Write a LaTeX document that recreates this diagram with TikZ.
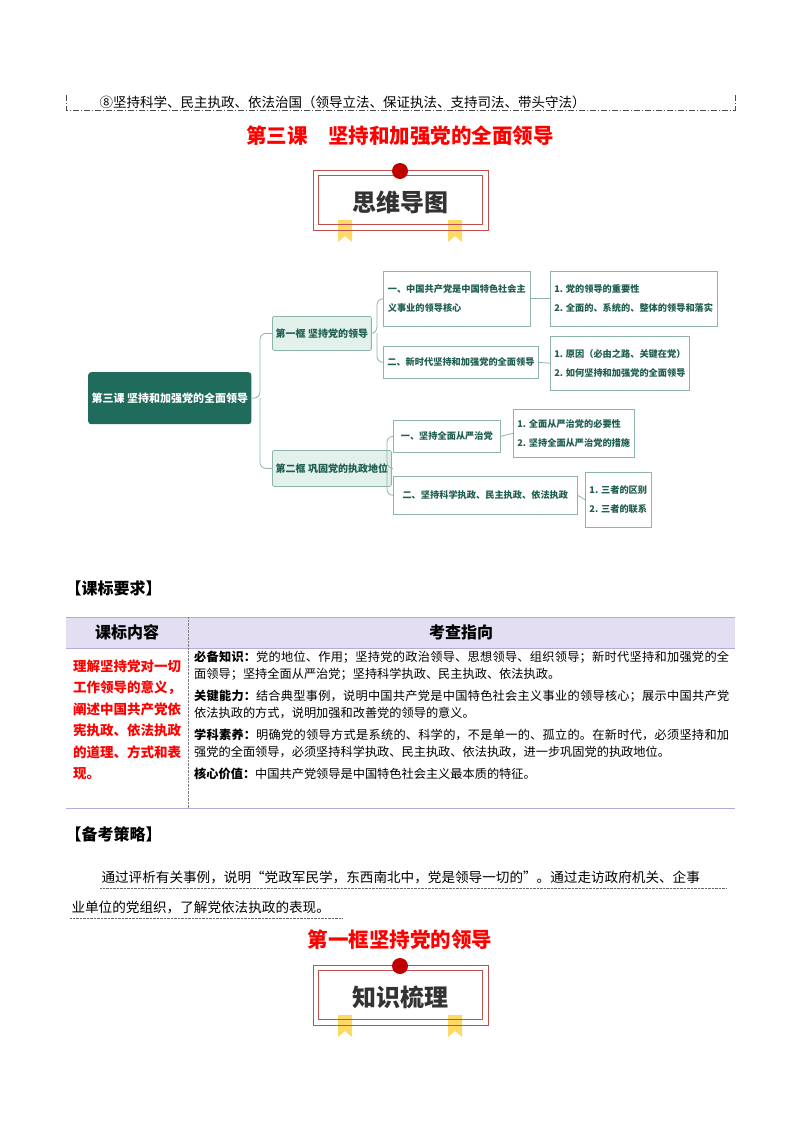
\documentclass[tikz,border=0pt]{standalone}
\usepackage{fontspec}
\setmainfont{Noto Sans CJK SC}
\XeTeXlinebreaklocale "zh"
\XeTeXlinebreakskip = 0pt plus 3pt
\usetikzlibrary{positioning}
\definecolor{dgreen}{HTML}{1F6B5C}
\definecolor{lgreen}{HTML}{E2F1EC}
\definecolor{mtext}{HTML}{1F5E50}
\definecolor{mborder}{HTML}{8FB5AA}
\definecolor{lav}{HTML}{E3DEF2}
\definecolor{lavb}{HTML}{B6A9DE}
\definecolor{bred}{HTML}{C0504D}
\definecolor{dotred}{HTML}{C00000}
\definecolor{gold}{HTML}{FFD966}
\tikzset{
 leaf/.style={draw=mborder,line width=0.6pt,fill=white,align=left,anchor=north west,inner sep=4pt,text=mtext,font=\fontsize{9.2}{19}\selectfont\bfseries},
 frame/.style={draw=mborder,line width=0.8pt,fill=lgreen,rounded corners=2pt,text=mtext,font=\fontsize{10}{12}\selectfont\bfseries,anchor=north west},
 conn/.style={draw=mborder,line width=0.8pt,rounded corners=6pt},
 hd/.style={font=\fontsize{16}{18}\selectfont\bfseries,anchor=west},
 redtitle/.style={text=red,font=\fontsize{20.5}{23}\selectfont\bfseries},
}
\newcommand{\badge}[3]{%
 \fill[gold] (#1-62,#2+20) -- (#1-48,#2+20) -- (#1-48,#2+42) -- (#1-55,#2+36) -- (#1-62,#2+42) -- cycle;
 \fill[gold] (#1+48,#2+20) -- (#1+62,#2+20) -- (#1+62,#2+42) -- (#1+55,#2+36) -- (#1+48,#2+42) -- cycle;
 \draw[bred,line width=0.8pt] (#1-87,#2-30) rectangle (#1+88,#2+30);
 \draw[bred,line width=0.8pt] (#1-82,#2-25) rectangle (#1+82,#2+24);
 \fill[dotred] (#1,#2-29) circle (8);
 \node[font=\fontsize{24}{26}\selectfont\bfseries,text=black!80] (#3) at (#1,#2+2) {#3};}
\begin{document}
\begin{tikzpicture}[x=1pt,y=-1pt]
\useasboundingbox (0,0) rectangle (800,1132);
% top dashed box
\draw[black!70,dash pattern=on 6pt off 2pt on 1pt off 2pt] (66,95) -- (66,110) -- (735,110) -- (735,95);
\node[anchor=west,font=\fontsize{13.5}{15}\selectfont] (topline) at (96,102) {⑧坚持科学、民主执政、依法治国（领导立法、保证执法、支持司法、带头守法）};
\node[redtitle] (t1) at (400,136) {第三课\quad 坚持和加强党的全面领导};
\badge{400}{200}{思维导图}
% mind map
\node[fill=dgreen,rounded corners=3pt,text=white,font=\fontsize{11}{13}\selectfont\bfseries,minimum width=154pt,minimum height=52pt,anchor=north west] (root) at (88,372) {第三课 坚持和加强党的全面领导};
\node[frame,minimum width=90pt,minimum height=34pt] (f1) at (272,316) {第一框 坚持党的领导};
\node[frame,minimum width=114pt,minimum height=36pt] (f2) at (272,450) {第二框 巩固党的执政地位};
\node[leaf,minimum width=147pt,minimum height=55pt] (a1) at (383,271) {一、中国共产党是中国特色社会主\\义事业的领导核心};
\node[leaf,minimum width=147pt,minimum height=32pt] (a2) at (383,346) {二、新时代坚持和加强党的全面领导};
\node[leaf,minimum width=163pt,minimum height=55pt] (b1) at (550,271) {1. 党的领导的重要性\\2. 全面的、系统的、整体的领导和落实};
\node[leaf,minimum width=115pt,minimum height=54pt] (b2) at (550,336) {1. 原因（必由之路、关键在党）\\2. 如何坚持和加强党的全面领导};
\node[leaf,minimum width=107pt,minimum height=32pt] (c1) at (393,420) {一、坚持全面从严治党};
\node[leaf,minimum width=184pt,minimum height=38pt] (c2) at (393,476) {二、坚持科学执政、民主执政、依法执政};
\node[leaf,minimum width=120pt,minimum height=48pt] (d1) at (513,409) {1. 全面从严治党的必要性\\2. 坚持全面从严治党的措施};
\node[leaf,minimum width=66pt,minimum height=55pt] (d2) at (585,472) {1. 三者的区别\\2. 三者的联系};
\draw[conn] (root.east) -- (260,398) |- (f1.west);
\draw[conn] (260,398) |- (f2.west);
\draw[conn] (f1.east) -- (377,333) |- (a1.west);
\draw[conn] (377,333) |- (a2.west);
\draw[conn] (a1.east) -- (b1.west);
\draw[conn] (a2.east) -- (b2.west);
\draw[conn] (f2.east) -- (387,468) |- (c1.west);
\draw[conn] (387,468) |- (c2.west);
\draw[conn] (c1.east) -- (d1.west);
\draw[conn] (c2.east) -- (d2.west);
% table
\node[hd] (h1) at (62,588) {【课标要求】};
\fill[lav] (66,617) rectangle (735,648);
\draw[lavb,line width=0.8pt] (66,617) -- (735,617);
\draw[lavb,line width=0.8pt] (66,648) -- (735,648);
\draw[lavb,line width=0.8pt] (66,808) -- (735,808);
\draw[black!50,densely dotted] (188,617) -- (188,808);
\node[font=\fontsize{16}{18}\selectfont\bfseries] (k1) at (127,632) {课标内容};
\node[font=\fontsize{16}{18}\selectfont\bfseries] (k2) at (461,632) {考查指向};
\node[text=red,font=\fontsize{13.5}{21.5}\selectfont\bfseries,text width=108pt,align=justify,inner sep=0pt] (left) at (127,720) {理解坚持党对一切工作领导的意义，阐述中国共产党依宪执政、依法执政的道理、方式和表现。};
\node[anchor=north west,text width=535pt,align=justify,inner sep=0pt,font=\fontsize{12.2}{17}\selectfont] (right) at (194,651) {%
\textbf{必备知识：}党的地位、作用；坚持党的政治领导、思想领导、组织领导；新时代坚持和加强党的全面领导；坚持全面从严治党；坚持科学执政、民主执政、依法执政。\\[5pt]
\textbf{关键能力：}结合典型事例，说明中国共产党是中国特色社会主义事业的领导核心；展示中国共产党依法执政的方式，说明加强和改善党的领导的意义。\\[5pt]
\textbf{学科素养：}明确党的领导方式是系统的、科学的，不是单一的、孤立的。在新时代，必须坚持和加强党的全面领导，必须坚持科学执政、民主执政、依法执政，进一步巩固党的执政地位。\\[5pt]
\textbf{核心价值：}中国共产党领导是中国特色社会主义最本质的特征。};
% strategy
\node[hd] (h2) at (62,834) {【备考策略】};
\node[anchor=west,font=\fontsize{13.6}{15}\selectfont] (p1) at (98,877) {通过评析有关事例，说明“党政军民学，东西南北中，党是领导一切的”。通过走访政府机关、企事};
\node[anchor=west,font=\fontsize{13.6}{15}\selectfont] (p2) at (68,907) {业单位的党组织，了解党依法执政的表现。};
\draw[black!60,densely dotted] (100,888) -- (727,888);
\draw[black!60,densely dotted] (70,918) -- (342,918);
\node[redtitle] (t2) at (400,940) {第一框坚持党的领导};
\badge{400}{995}{知识梳理}
\end{tikzpicture}
\end{document}
